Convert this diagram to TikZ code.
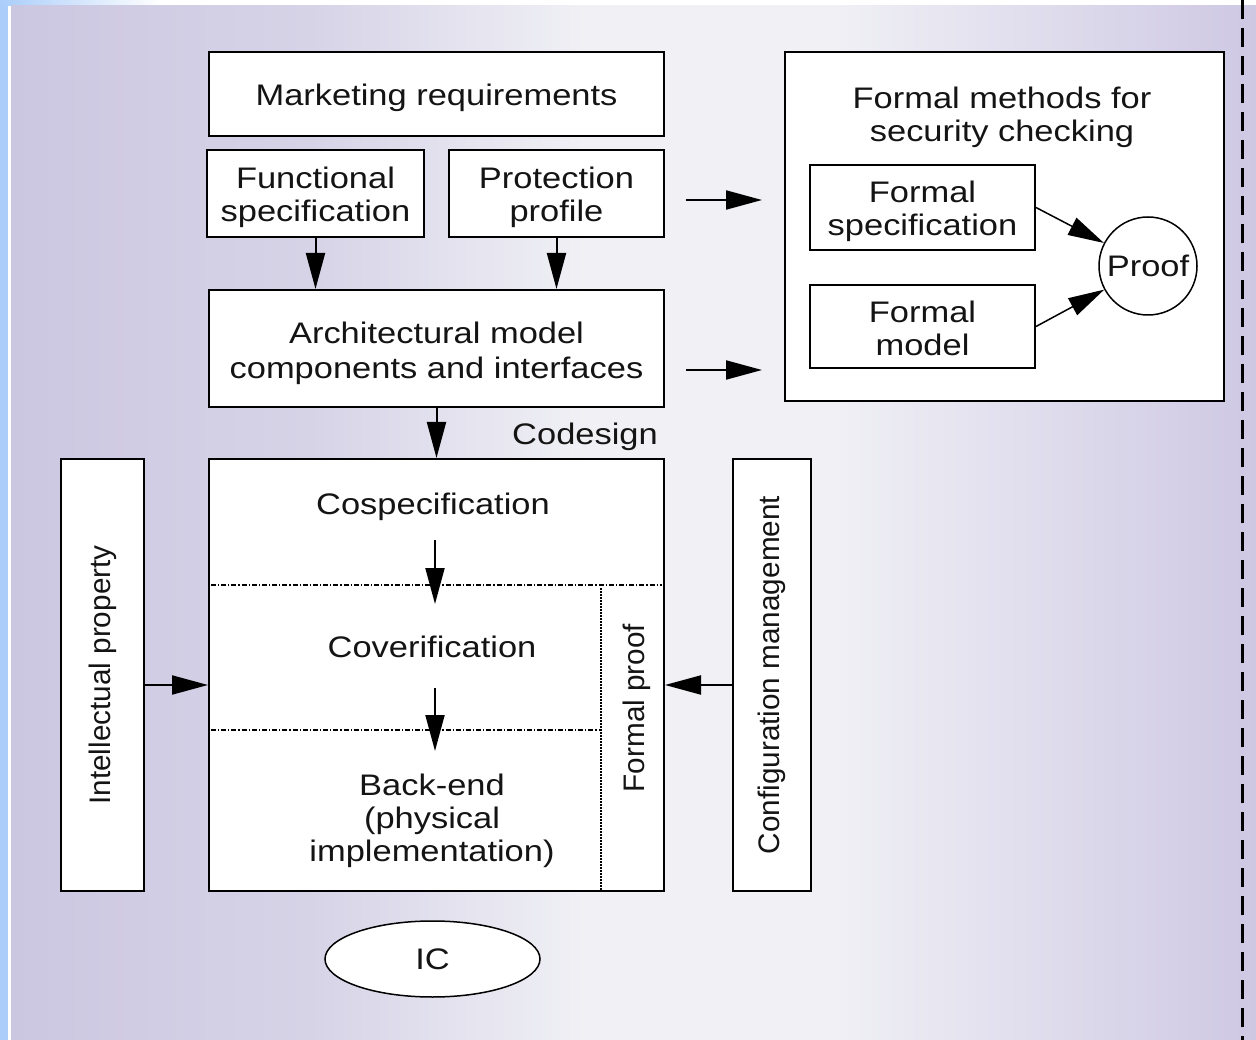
\documentclass[tikz,border=0pt]{standalone}
\usepackage{fontspec}
\setmainfont{Liberation Sans}[FakeStretch=1.16]
\newfontfamily\rotfont{Liberation Sans}
\usetikzlibrary{arrows.meta,shapes.geometric}
\definecolor{edgeblue}{RGB}{170,205,250}
\definecolor{lavL}{RGB}{204,199,225}
\definecolor{lavA}{RGB}{214,211,231}
\definecolor{lavM}{RGB}{240,240,245}
\definecolor{lavB}{RGB}{222,219,236}
\definecolor{lavR}{RGB}{206,200,227}
\definecolor{txt}{RGB}{20,20,20}
\pgfdeclarehorizontalshading{bgshade}{100bp}{color(0bp)=(lavL); color(25bp)=(lavL); color(37bp)=(lavA); color(48bp)=(lavM); color(58bp)=(lavM); color(67bp)=(lavB); color(75bp)=(lavR); color(100bp)=(lavR)}
\begin{document}
\begin{tikzpicture}[x=1pt,y=-1pt,
  every node/.style={font=\fontsize{29.7}{33}\selectfont, text=txt, align=center},
  rot/.style={rotate=90, font=\rotfont\fontsize{29.7}{33}\selectfont},
  lbl/.style={yshift=-3.5pt},
  box/.style={draw=black, line width=2pt, fill=white, inner sep=0pt, rectangle},
  arr/.style={line width=2pt, -{Triangle[length=36pt,width=19pt]}},
  sep/.style={line width=1.2pt, dash pattern=on 5pt off 2pt on 1.2pt off 2pt},
  vsep/.style={line width=1.2pt, dash pattern=on 1.5pt off 1.5pt}]
% background
\useasboundingbox (0,0) rectangle (1256,1040);
\fill[edgeblue] (0,0) rectangle (1256,1040);
\shade[left color=edgeblue, right color=white] (0,0) rectangle (160,6);
\fill[white] (160,0) rectangle (1256,6);
\fill[white] (8,6) rectangle (11,1040);
\shade[shading=bgshade] (11,6) rectangle (1256,1040);
\draw[line width=3pt, dash pattern=on 19pt off 9pt] (1242,0) -- (1242,1040);
% top boxes
\node[box, minimum width=455pt, minimum height=84pt] (mr) at (436.5,94) {};
\node[lbl] (mrt) at (mr.center) {Marketing requirements};
\node[box, minimum width=217pt, minimum height=87pt] (fs) at (315.5,193.5) {};
\node[lbl] (fst) at (fs.center) {Functional\\specification};
\node[box, minimum width=215pt, minimum height=87pt] (pp) at (556.5,193.5) {};
\node[lbl] (ppt) at (pp.center) {Protection\\profile};
\node[box, minimum width=455pt, minimum height=117pt] (am) at (436.5,348.5) {};
\node[yshift=-5pt, font=\fontsize{29.7}{35}\selectfont] (amt) at (am.center) {Architectural model\\components and interfaces};
% formal methods
\node[box, minimum width=439pt, minimum height=349pt] (fm) at (1004.5,226.5) {};
\node (fmt) at (1002,117) {Formal methods for\\security checking};
\node[box, minimum width=225pt, minimum height=85pt] (fsp) at (922.5,207.5) {};
\node[lbl] (fspt) at (fsp.center) {Formal\\specification};
\node[box, minimum width=225pt, minimum height=83pt] (fmo) at (922.5,326.5) {};
\node[yshift=-2pt] (fmot) at (fmo.center) {Formal\\model};
\node[draw=black, line width=1.5pt, circle, fill=white, minimum size=98pt, inner sep=0pt] (pr) at (1148,266) {Proof};
\draw[arr, line width=1.5pt] (fsp.east) -- (pr);
\draw[arr, line width=1.5pt] (fmo.east) -- (pr);
% right arrows
\coordinate (r1s) at (686,200); \coordinate (r1e) at (762,200);
\coordinate (r2s) at (686,370); \coordinate (r2e) at (762,370);
\draw[arr] (r1s) -- (r1e);
\draw[arr] (r2s) -- (r2e);
% down arrows
\draw[arr] (fs.south) -- (fs.south |- am.north);
\draw[arr] (pp.south) -- (pp.south |- am.north);
% codesign
\node[box, minimum width=455pt, minimum height=432pt] (cd) at (436.5,675) {};
\draw[arr] (am.south) -- (cd.north);
\node (cdl) at (585,437) {Codesign};
\node[box, minimum width=83pt, minimum height=432pt] (ip) at (102.5,675) {};
\node[rot] (ipt) at (ip.center) {Intellectual property};
\node[box, minimum width=78pt, minimum height=432pt] (cm) at (772,675) {};
\node[rot] (cmt) at (cm.center) {Configuration management};
\coordinate (ya) at (0,685);
\draw[arr] (ip.east |- ya) -- (cd.west |- ya);
\draw[arr] (cm.west |- ya) -- (cd.east |- ya);
% inside codesign
\coordinate (d1l) at (211,585); \coordinate (d1r) at (662,585);
\coordinate (d2l) at (211,730); \coordinate (d2r) at (601,730);
\coordinate (vt) at (601,588); \coordinate (vb) at (601,890);
\draw[sep] (d1l) -- (d1r);
\draw[sep] (d2l) -- (d2r);
\draw[vsep] (vt) -- (vb);
\node (cs) at (433,507) {Cospecification};
\node (cv) at (432,647) {Coverification};
\node (be) at (432,821) {Back-end\\(physical\\implementation)};
\node[rot] (fp) at (637,708) {Formal proof};
\coordinate (a1s) at (435,540); \coordinate (a1e) at (435,604);
\coordinate (a2s) at (435,688); \coordinate (a2e) at (435,751);
\draw[arr] (a1s) -- (a1e);
\draw[arr] (a2s) -- (a2e);
% IC
\node[draw=black, line width=1.5pt, ellipse, fill=white, minimum width=215pt, minimum height=76pt, inner sep=0pt] (ic) at (432.5,959) {IC};
\end{tikzpicture}
\end{document}
